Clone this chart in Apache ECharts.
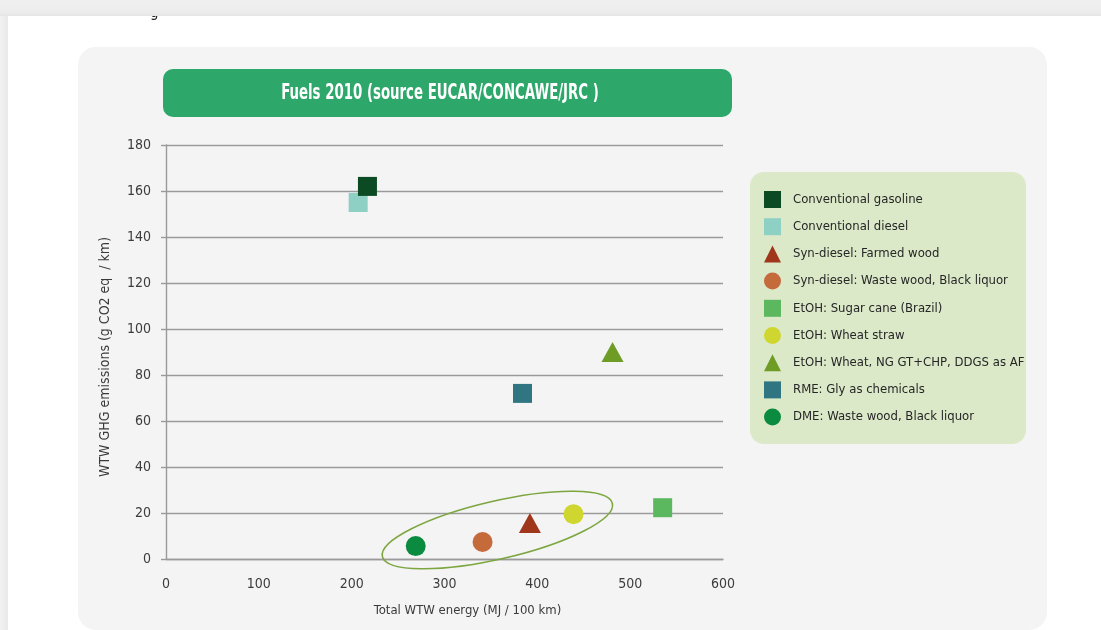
<!DOCTYPE html>
<html>
<head>
<meta charset="utf-8">
<script src="https://cdn.jsdelivr.net/npm/echarts@6/dist/echarts.min.js"></script>
<style>
  html, body { margin: 0; padding: 0; background: #ffffff; }
  #chart { width: 1101px; height: 630px; }
</style>
</head>
<body>
<div id="chart"></div>
<script>
// Fuel pathways, WTW energy vs. WTW GHG emissions
const fuelNames = [
  'Conventional gasoline',
  'Conventional diesel',
  'Syn-diesel: Farmed wood',
  'Syn-diesel: Waste wood, Black liquor',
  'EtOH: Sugar cane (Brazil)',
  'EtOH: Wheat straw',
  'EtOH: Wheat, NG GT+CHP, DDGS as AF',
  'RME: Gly as chemicals',
  'DME: Waste wood, Black liquor'
];
const energyMJ = [217, 207, 392, 341, 535, 439, 481, 384, 269];
const ghgEmissions = [162, 155, 15.6, 7.4, 22.3, 19.5, 90, 72, 5.6];
const markerShapes = ['rect', 'rect', 'triangle', 'circle', 'rect', 'circle', 'triangle', 'rect', 'circle'];
const markerColors = ['#0b4a22', '#8fd0c4', '#a0361b', '#c56a3b', '#5cb85f', '#cfd62f', '#6e9c25', '#2f7682', '#0b8b3f'];

const xTickValues = [0, 100, 200, 300, 400, 500, 600];
const yTickValues = [0, 20, 40, 60, 80, 100, 120, 140, 160, 180];

// Grouping of the low-emission second-generation pathways
const groupCenter = [357, 12.6];

const FONT = '"Liberation Sans Narrow", "DejaVu Sans Condensed", "Roboto Condensed", "Liberation Sans", sans-serif';
const GRID_COLOR = '#9a9a9a';

const sizeFor = shape => shape === 'triangle' ? [22, 20] : (shape === 'circle' ? 20 : 19);

const scatterSeries = fuelNames.map((name, i) => ({
  name: name,
  type: 'scatter',
  symbol: markerShapes[i],
  symbolSize: sizeFor(markerShapes[i]),
  itemStyle: { color: markerColors[i], opacity: 1 },
  z: i === 0 ? 4 : 3,
  data: [[energyMJ[i], ghgEmissions[i]]]
}));

const ellipseSeries = {
  name: 'group',
  type: 'custom',
  coordinateSystem: 'cartesian2d',
  silent: true,
  z: 2,
  data: [groupCenter],
  renderItem: (params, api) => {
    const c = api.coord([api.value(0), api.value(1)]);
    return {
      type: 'ellipse',
      x: c[0],
      y: c[1],
      rotation: 13 * Math.PI / 180,
      shape: { cx: 0, cy: 0, rx: 118, ry: 29 },
      style: { fill: 'none', stroke: '#7da640', lineWidth: 1.6 }
    };
  }
};

const chart = echarts.init(document.getElementById('chart'), null, { renderer: 'canvas' });

chart.setOption({
  backgroundColor: '#ffffff',
  animation: false,
  graphic: [
    // page edges
    { type: 'text', z: -9, x: 150, y: 6, style: { text: 'g', x: 0, y: 0,
      font: '15px ' + FONT, fill: '#222' } },
    { type: 'rect', z: -8, shape: { x: 0, y: 0, width: 1101, height: 16 },
      style: { fill: new echarts.graphic.LinearGradient(0, 0, 0, 1, [
        { offset: 0, color: '#f0f0f0' }, { offset: 0.8, color: '#ececec' }, { offset: 1, color: '#e4e4e4' }]) } },
    { type: 'rect', z: -8, shape: { x: 0, y: 16, width: 8, height: 614 },
      style: { fill: new echarts.graphic.LinearGradient(0, 0, 1, 0, [
        { offset: 0, color: '#f2f2f2' }, { offset: 1, color: '#e9e9e9' }]) } },
    // chart panel
    { type: 'rect', z: -7, shape: { x: 78, y: 47, width: 969, height: 583, r: 18 },
      style: { fill: '#f4f4f4' } },
    // title banner
    { type: 'rect', z: -6, shape: { x: 163, y: 69, width: 569, height: 48, r: 10 },
      style: { fill: '#2ea86a' } },
    { type: 'text', z: -5, x: 440, y: 94, scaleX: 0.705,
      style: { text: 'Fuels 2010 (source EUCAR/CONCAWE/JRC )', x: 0, y: 0,
        align: 'center', verticalAlign: 'middle', font: 'bold 21px ' + FONT, fill: '#ffffff' } },
    // legend panel
    { type: 'rect', z: -6, shape: { x: 750, y: 172, width: 276, height: 272, r: 14 },
      style: { fill: '#dbe9c9' } }
  ],
  legend: {
    data: fuelNames,
    orient: 'vertical',
    left: 764,
    top: 191,
    itemWidth: 17,
    itemHeight: 17,
    itemGap: 10.2,
    padding: 0,
    selectedMode: false,
    textStyle: { fontFamily: FONT, fontSize: 13, color: '#262626', padding: [0, 0, 0, 7] }
  },
  grid: { left: 166, top: 145, width: 557, height: 414, containLabel: false },
  xAxis: {
    type: 'value',
    min: xTickValues[0],
    max: xTickValues[xTickValues.length - 1],
    interval: 100,
    name: 'Total WTW energy (MJ / 100 km)',
    nameLocation: 'middle',
    nameGap: 45,
    nameTextStyle: { fontFamily: FONT, fontSize: 13, color: '#3a3a3a', padding: [0, 0, 0, 46] },
    axisLine: { show: true, lineStyle: { color: GRID_COLOR, width: 1.4 } },
    axisTick: { show: false },
    splitLine: { show: false },
    axisLabel: { fontFamily: FONT, fontSize: 14, color: '#3c3c3c', margin: 18 }
  },
  yAxis: {
    type: 'value',
    min: yTickValues[0],
    max: yTickValues[yTickValues.length - 1],
    interval: 20,
    name: 'WTW GHG emissions (g CO2 eq  / km)',
    nameLocation: 'middle',
    nameGap: 54,
    nameTextStyle: { fontFamily: FONT, fontSize: 14, color: '#3a3a3a', padding: [0, 10, 0, 0] },
    axisLine: { show: true, lineStyle: { color: GRID_COLOR, width: 1.4 } },
    axisTick: { show: true, length: 5, lineStyle: { color: GRID_COLOR, width: 1.4 } },
    splitLine: { show: true, lineStyle: { color: GRID_COLOR, width: 1.4 } },
    axisLabel: { fontFamily: FONT, fontSize: 14, color: '#3c3c3c', margin: 15 }
  },
  tooltip: { show: false },
  series: [ellipseSeries].concat(scatterSeries)
});
</script>
</body>
</html>
